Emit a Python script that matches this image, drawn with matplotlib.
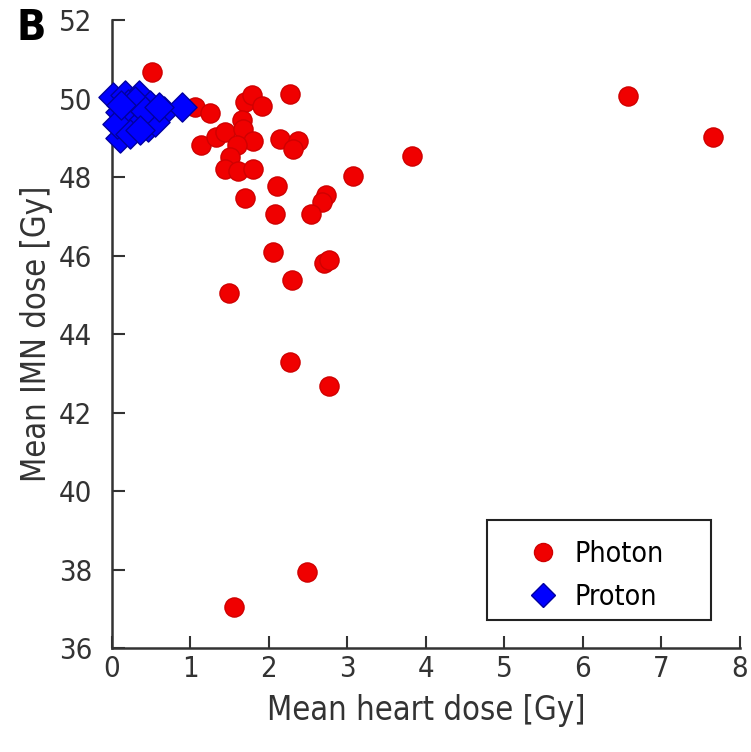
import matplotlib
matplotlib.use("Agg")
import matplotlib.pyplot as plt
from matplotlib.lines import Line2D
from matplotlib.patches import Rectangle

plt.rcParams["font.family"] = ["DejaVu Sans"]
plt.rcParams["font.stretch"] = "condensed"

# Photon plans: mean heart dose [Gy], mean IMN dose [Gy]
photon_heart = [0.51, 1.06, 1.25, 1.69, 1.78, 1.91, 2.27, 6.58, 7.66, 1.14,
                1.33, 1.44, 1.66, 1.67, 1.80, 1.59, 1.50, 1.44, 1.61, 1.80,
                2.14, 2.37, 2.31, 3.82, 3.07, 2.11, 2.73, 2.68, 1.69, 2.08,
                2.54, 2.05, 2.70, 2.77, 2.30, 1.49, 2.27, 2.76, 2.49, 1.55]
photon_imn = [50.68, 49.78, 49.63, 49.92, 50.09, 49.81, 50.13, 50.07, 49.03, 48.82,
              49.03, 49.15, 49.47, 49.24, 48.92, 48.82, 48.52, 48.20, 48.15, 48.20,
              48.97, 48.93, 48.71, 48.53, 48.03, 47.77, 47.56, 47.37, 47.48, 47.07,
              47.06, 46.10, 45.82, 45.89, 45.39, 45.05, 43.29, 42.68, 37.93, 37.05]

# Proton plans
proton_heart = [0.02, 0.17, 0.35, 0.21, 0.10, 0.31, 0.48, 0.57, 0.67, 0.89,
                0.10, 0.19, 0.27, 0.46, 0.40, 0.55, 0.06, 0.23, 0.30, 0.12,
                0.42, 0.60, 0.36]
proton_imn = [50.05, 50.09, 50.09, 49.88, 49.66, 49.62, 49.83, 49.62, 49.69, 49.79,
              48.99, 49.28, 49.41, 49.28, 49.45, 49.41, 49.36, 49.11, 49.95, 49.85,
              49.70, 49.80, 49.20]

x_ticks = list(range(0, 9))
y_ticks = list(range(36, 53, 2))

TXT = "#333333"

fig = plt.figure(figsize=(7.51, 7.52), dpi=100)
ax = fig.add_axes([0.149, 0.138, 0.836, 0.835])

ax.scatter(photon_heart, photon_imn, s=190, marker="o", color="#f00000",
           edgecolors="#d00000", linewidths=1.0, zorder=3, clip_on=False)
ax.scatter(proton_heart, proton_imn, s=220, marker="D", color="#0000ff",
           edgecolors="#0000a0", linewidths=1.0, zorder=4, clip_on=False)

ax.set_xlim(0, 8)
ax.set_ylim(36, 52)
ax.set_xticks(x_ticks)
ax.set_yticks(y_ticks)
ax.tick_params(direction="in", length=9, width=1.5, labelsize=21, colors=TXT)
ax.tick_params(axis="x", pad=5)
ax.tick_params(axis="y", pad=14)
for side in ("top", "right"):
    ax.spines[side].set_visible(False)
for side in ("left", "bottom"):
    ax.spines[side].set_linewidth(1.8)
    ax.spines[side].set_color(TXT)

ax.set_xlabel("Mean heart dose [Gy]", fontsize=23.5, color=TXT, labelpad=8)
ax.set_ylabel("Mean IMN dose [Gy]", fontsize=23.5, color=TXT, labelpad=4)

# legend box drawn separately so the padding can be set per side
ax.add_patch(Rectangle((0.597, 0.0446), 0.358, 0.159, transform=ax.transAxes,
                       fill=True, facecolor="white", edgecolor="#222222",
                       linewidth=1.5, zorder=5))
handles = [
    Line2D([], [], marker="o", linestyle="none", markersize=13,
           markerfacecolor="#f00000", markeredgecolor="#d00000", label="Photon"),
    Line2D([], [], marker="D", linestyle="none", markersize=12,
           markerfacecolor="#0000ff", markeredgecolor="#0000a0", label="Proton"),
]
leg = ax.legend(handles=handles, loc="upper left", bbox_to_anchor=(0.659, 0.173),
                fontsize=20.5, frameon=False, borderpad=0, borderaxespad=0,
                handlelength=1.2, handletextpad=0.53, labelspacing=0.55)
leg.set_zorder(6)

fig.text(0.0226, 0.963, "B", fontsize=31, fontweight="bold", color="black",
         va="center", ha="left")

fig.savefig("out.png", dpi=100)
